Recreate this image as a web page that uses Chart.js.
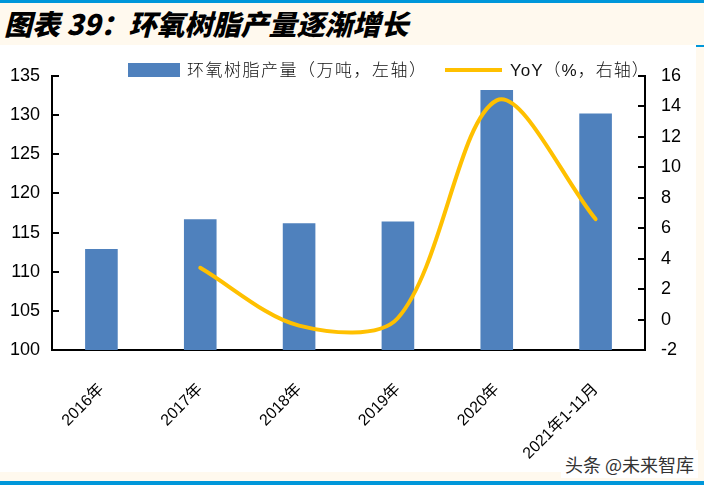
<!DOCTYPE html>
<html>
<head>
<meta charset="utf-8">
<script src="https://cdn.jsdelivr.net/npm/chart.js@4/dist/chart.umd.min.js"></script>
<style>
  html, body { margin: 0; padding: 0; }
  body { width: 704px; height: 485px; background: #FFF9EE; position: relative; overflow: hidden; }
  #topline { position: absolute; left: 0; top: 0; width: 704px; height: 3px; background: #0097DA; }
  #title { position: absolute; left: 4px; top: 4px; height: 40px; line-height: 38px;
           font-family: "Noto Sans CJK SC", sans-serif; font-weight: 900; font-style: italic;
           font-size: 28px; color: #000; white-space: nowrap; }
  #box { position: absolute; left: 0; top: 45px; width: 696px; height: 427px; background: #fff; }
  #tick { position: absolute; left: 696px; top: 45px; width: 8px; height: 2px; background: #0097DA; }
  #bottomline { position: absolute; left: 0; top: 481px; width: 704px; height: 4px; background: #0097DA; }
  #wm { position: absolute; left: 561px; top: 450px; padding: 1px 4px; background: #fff;
        font-family: "Noto Sans CJK SC", sans-serif; font-size: 18px; color: #333; white-space: nowrap; }
</style>
</head>
<body>
<div id="topline"></div>
<div id="title">图表 39：环氧树脂产量逐渐增长</div>
<div id="box"><canvas id="c" width="696" height="427"></canvas></div>
<div id="tick"></div>
<div id="bottomline"></div>
<div id="wm">头条 @未来智库</div>
<script>
const categories = ['2016年', '2017年', '2018年', '2019年', '2020年', '2021年1-11月'];
const production = [112.9, 116.7, 116.2, 116.4, 133.2, 130.2];
const yoy = [null, 3.4, -0.4, 0.1, 14.4, 6.6];
const seriesNames = ['环氧树脂产量（万吨，左轴）', 'YoY（%，右轴）'];
const leftAxis = { min: 100, max: 135, step: 5 };
const rightAxis = { min: -2, max: 16, step: 2 };

const BAR_COLOR = '#4F81BD';
const LINE_COLOR = '#FFC000';

const inwardTicks = {
  id: 'inwardTicks',
  afterDatasetsDraw(chart) {
    const ctx = chart.ctx;
    const a = chart.chartArea;
    ctx.save();
    ctx.strokeStyle = '#000';
    ctx.lineWidth = 2;
    ctx.beginPath();
    chart.scales.y.ticks.forEach(t => {
      const py = Math.round(chart.scales.y.getPixelForValue(t.value));
      ctx.moveTo(a.left, py); ctx.lineTo(a.left + 7, py);
    });
    chart.scales.y1.ticks.forEach(t => {
      const py = Math.round(chart.scales.y1.getPixelForValue(t.value));
      ctx.moveTo(a.right - 7, py); ctx.lineTo(a.right, py);
    });
    ctx.stroke();
    ctx.restore();
  }
};

const customLegend = {
  id: 'customLegend',
  afterDraw(chart) {
    const ctx = chart.ctx;
    const bar = chart.data.datasets.find(d => d.type === 'bar');
    const line = chart.data.datasets.find(d => d.type === 'line');
    ctx.save();
    ctx.textBaseline = 'middle';
    ctx.fillStyle = bar.backgroundColor;
    ctx.fillRect(128, 18, 52, 14);
    ctx.fillStyle = '#111';
    ctx.font = '300 17px "Liberation Sans", "Noto Sans CJK SC", sans-serif';
    ctx.letterSpacing = '1.5px';
    ctx.fillText(bar.label, 187, 26);
    ctx.strokeStyle = line.borderColor;
    ctx.lineWidth = 4;
    ctx.beginPath();
    ctx.moveTo(445, 25); ctx.lineTo(502, 25);
    ctx.stroke();
    ctx.letterSpacing = '1px';
    ctx.fillText(line.label, 510, 26);
    ctx.restore();
  }
};

new Chart(document.getElementById('c'), {
  data: {
    labels: categories,
    datasets: [
      {
        type: 'line', label: seriesNames[1], data: yoy, yAxisID: 'y1',
        borderColor: LINE_COLOR, borderWidth: 4, pointRadius: 0, tension: 0.32,
        fill: false, borderCapStyle: 'round', order: 0
      },
      {
        type: 'bar', label: seriesNames[0], data: production, yAxisID: 'y',
        backgroundColor: BAR_COLOR, barPercentage: 0.33, categoryPercentage: 1, order: 1
      }
    ]
  },
  options: {
    responsive: false,
    animation: false,
    layout: { padding: { top: 31, left: 0, right: 0, bottom: 0 } },
    plugins: { legend: { display: false }, tooltip: { enabled: false } },
    scales: {
      x: {
        grid: { display: false, drawTicks: false },
        border: { display: true, color: '#000', width: 2 },
        ticks: {
          minRotation: 45, maxRotation: 45, padding: 30, color: '#000',
          font: { family: '"Liberation Sans", "Noto Sans CJK SC", sans-serif', size: 16 }
        },
        afterFit(s) { s.height = 122; }
      },
      y: {
        position: 'left', min: leftAxis.min, max: leftAxis.max,
        grid: { display: false, drawTicks: false },
        border: { display: true, color: '#000', width: 2 },
        ticks: {
          stepSize: leftAxis.step, padding: 12, color: '#000',
          font: { family: '"Liberation Sans", Arial, sans-serif', size: 18 }
        },
        afterFit(s) { s.width = 52; }
      },
      y1: {
        position: 'right', min: rightAxis.min, max: rightAxis.max,
        grid: { display: false, drawTicks: false },
        border: { display: true, color: '#000', width: 2 },
        ticks: {
          stepSize: rightAxis.step, padding: 16, color: '#000',
          font: { family: '"Liberation Sans", Arial, sans-serif', size: 18 }
        },
        afterFit(s) { s.width = 51; }
      }
    }
  },
  plugins: [inwardTicks, customLegend]
});
</script>
</body>
</html>
